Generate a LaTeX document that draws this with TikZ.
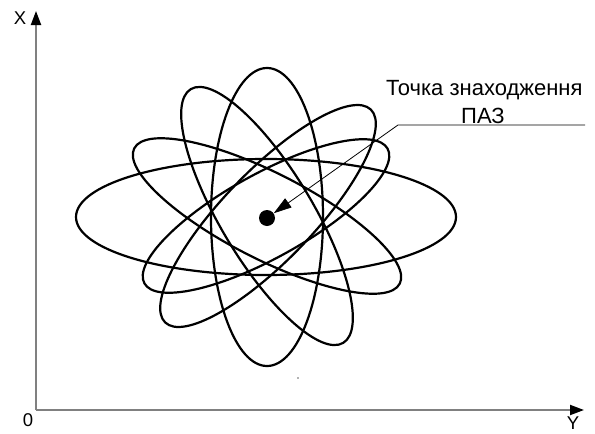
\documentclass[tikz,border=0pt]{standalone}
\usepackage{fontspec}
\setmainfont{Liberation Sans}
\usetikzlibrary{arrows.meta}
\begin{document}
\begin{tikzpicture}[x=1pt,y=-1pt,
  orbit/.style={draw=black,line width=2.2pt},
  axisline/.style={draw=black!50,line width=2pt,-{Triangle[length=14pt,width=10pt,color=black]}},
  leader/.style={draw=black,line width=0.8pt},
  axislabel/.style={font=\fontsize{18.5}{22}\selectfont,inner sep=0pt},
  biglabel/.style={font=\fontsize{22}{26}\selectfont,inner sep=0pt,anchor=base west}]
\useasboundingbox (0,0) rectangle (595,434);
% axes
\coordinate (O) at (36,410);
\coordinate (Xend) at (36,11);
\coordinate (Yend) at (584,410);
\draw[axisline] (O) -- (Xend);
\draw[axisline] (O) -- (Yend);
\node[axislabel] (xl) at (20,18) {X};
\node[axislabel] (yl) at (573,423) {Y};
\node[axislabel] (ol) at (28,420) {0};
% orbits
\coordinate (C) at (266,216);
\draw[orbit] (266,217) ellipse [x radius=190pt, y radius=58pt];
\draw[orbit,rotate around={90:(267,217)}] (267,217) ellipse [x radius=149pt, y radius=56pt];
\draw[orbit,rotate around={29:(C)}] (C) ellipse [x radius=139pt, y radius=42pt];
\draw[orbit,rotate around={46:(268,216)}] (268,216) ellipse [x radius=148pt, y radius=45pt];
\draw[orbit,rotate around={121:(267,216)}] (267,216) ellipse [x radius=148pt, y radius=46pt];
\draw[orbit,rotate around={153:(267,216)}] (267,216) ellipse [x radius=149pt, y radius=43pt];
% point
\node[circle,fill=black,inner sep=0pt,minimum size=16pt] (dot) at (267,218) {};
\fill[black!60] (298,378) circle [radius=0.8pt];
% label
\node[biglabel] (lbl1) at (386,95) {Точка знаходження};
\node[biglabel] (lbl2) at (461,123) {ПАЗ};
\coordinate (lend) at (585,125);
\coordinate (kink) at (398,125);
\draw[leader,-{Triangle[length=18pt,width=11pt]}] (lend) -- (kink) -- (dot);
\end{tikzpicture}
\end{document}
